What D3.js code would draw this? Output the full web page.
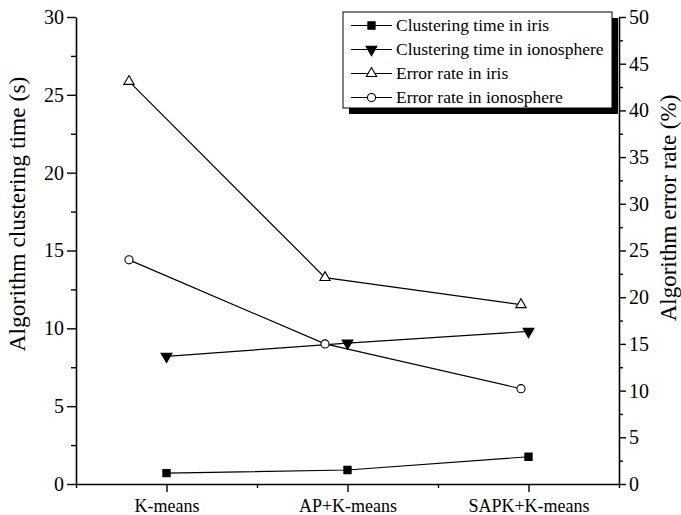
<!DOCTYPE html>
<html>
<head>
<meta charset="utf-8">
<script src="https://cdn.jsdelivr.net/npm/d3@7.9.0/dist/d3.min.js"></script>
<style>
  html, body { margin: 0; padding: 0; background: #fff; }
  svg { display: block; font-family: "Liberation Serif", "Times New Roman", serif; }
  .tick text { font-size: 20px; }
</style>
</head>
<body>
<svg id="chart" width="681" height="515"></svg>
<script>
const categories = ['K-means', 'AP+K-means', 'SAPK+K-means'];
const timeIris = [0.7, 0.9, 1.75];
const timeIono = [8.2, 9.05, 9.8];
const errIris = [43.1, 22.1, 19.2];
const errIono = [24.0, 15.0, 10.2];
const leftTicks = [0, 5, 10, 15, 20, 25, 30];
const rightTicks = [0, 5, 10, 15, 20, 25, 30, 35, 40, 45, 50];
const legendLabels = ['Clustering time in iris', 'Clustering time in ionosphere', 'Error rate in iris', 'Error rate in ionosphere'];

const svg = d3.select('#chart');
const plotL = 76, plotR = 619, plotT = 17, plotB = 484;
const serif = '"Liberation Serif", "Times New Roman", serif';

// time series sit on the category ticks, error series on their own layer
let x = d3.scaleLinear().domain([-0.5, 2.5]).range([plotL, plotR]);
let xErr = d3.scaleLinear().domain([0, 2]).range([129, 521]);
let yL = d3.scaleLinear().domain([0, 30]).range([plotB, plotT]);
let yR = d3.scaleLinear().domain([0, 50]).range([plotB, plotT]);

// minor ticks first (no labels)
svg.append('g')
   .attr('transform', `translate(${plotL},0)`)
   .call(d3.axisLeft(yL).tickValues(d3.range(2.5, 30, 5)).tickSize(5).tickFormat(''))
   .call(g => g.select('.domain').remove());
svg.append('g')
   .attr('transform', `translate(${plotR},0)`)
   .call(d3.axisRight(yR).tickValues(d3.range(2.5, 50, 5)).tickSize(4).tickFormat(''))
   .call(g => g.select('.domain').remove());
svg.append('g')
   .attr('transform', `translate(0,${plotB})`)
   .call(d3.axisBottom(x).tickValues([-0.5, 0.5, 1.5, 2.5]).tickSize(4).tickFormat(''))
   .call(g => g.select('.domain').remove());

// major axes
svg.append('g')
   .attr('transform', `translate(${plotL},0)`)
   .call(d3.axisLeft(yL).tickValues(leftTicks).tickSize(9).tickSizeOuter(0).tickPadding(3));
svg.append('g')
   .attr('transform', `translate(${plotR},0)`)
   .call(d3.axisRight(yR).tickValues(rightTicks).tickSize(7).tickSizeOuter(0).tickPadding(3));
svg.append('g')
   .attr('transform', `translate(0,${plotB})`)
   .call(d3.axisBottom(x).tickValues([0, 1, 2]).tickSize(8).tickSizeOuter(0).tickPadding(7)
      .tickFormat(i => categories[i]))
   .call(g => g.selectAll('text').style('font-size', '18px'));

svg.selectAll('g').attr('font-family', serif);
svg.selectAll('.domain').attr('stroke', '#000').attr('stroke-width', 1.6);
svg.selectAll('.tick line').attr('stroke', '#000').attr('stroke-width', 1.4);
svg.selectAll('.tick text').attr('fill', '#000');

// axis titles
svg.append('text')
   .attr('transform', 'translate(25,214) rotate(-90)')
   .attr('text-anchor', 'middle')
   .style('font-size', '23.5px')
   .text('Algorithm clustering time (s)');
svg.append('text')
   .attr('transform', 'translate(676,208) rotate(-90)')
   .attr('text-anchor', 'middle')
   .style('font-size', '23px')
   .text('Algorithm error rate (%)');

const symSquare = d3.symbol().type(d3.symbolSquare).size(52);
const symDown = d3.symbol().type(d3.symbolTriangle).size(50);
const symUp = d3.symbol().type(d3.symbolTriangle).size(46);
const symCircle = d3.symbol().type(d3.symbolCircle).size(52);

const series = [
    { values: timeIris, xs: x, ys: yL, sym: symSquare, fill: '#000', rot: 0 },
    { values: timeIono, xs: x, ys: yL, sym: symDown, fill: '#000', rot: 180 },
    { values: errIris, xs: xErr, ys: yR, sym: symUp, fill: '#fff', rot: 0 },
    { values: errIono, xs: xErr, ys: yR, sym: symCircle, fill: '#fff', rot: 0 },
];

series.forEach(s => {
    let line = d3.line().x((d, i) => s.xs(i)).y(d => s.ys(d));
    svg.append('path')
       .attr('d', line(s.values))
       .attr('fill', 'none')
       .attr('stroke', '#000')
       .attr('stroke-width', 1.2);
});

series.forEach(s => {
    svg.append('g').selectAll('path')
       .data(s.values)
       .join('path')
       .attr('d', s.sym)
       .attr('transform', (d, i) => `translate(${s.xs(i)},${s.ys(d)}) rotate(${s.rot})`)
       .attr('fill', s.fill)
       .attr('stroke', '#000')
       .attr('stroke-width', 1.1);
});

// legend with drop shadow
const lx = 343, ly = 12, lw = 269, lh = 96;
svg.append('rect').attr('x', lx + 6).attr('y', ly + 6).attr('width', lw).attr('height', lh).attr('fill', '#000');
svg.append('rect').attr('x', lx).attr('y', ly).attr('width', lw).attr('height', lh)
   .attr('fill', '#fff').attr('stroke', '#000').attr('stroke-width', 1);

legendLabels.forEach((label, i) => {
    let cy = ly + 13.5 + i * 24;
    let s = series[i];
    svg.append('line').attr('x1', lx + 8).attr('x2', lx + 49).attr('y1', cy).attr('y2', cy)
       .attr('stroke', '#000').attr('stroke-width', 1.2);
    svg.append('path').attr('d', s.sym)
       .attr('transform', `translate(${lx + 28.5},${cy}) rotate(${s.rot})`)
       .attr('fill', s.fill).attr('stroke', '#000').attr('stroke-width', 1.1);
    svg.append('text').attr('x', lx + 53).attr('y', cy).attr('dy', '0.33em')
       .style('font-size', '17.5px')
       .text(label);
});
</script>
</body>
</html>
